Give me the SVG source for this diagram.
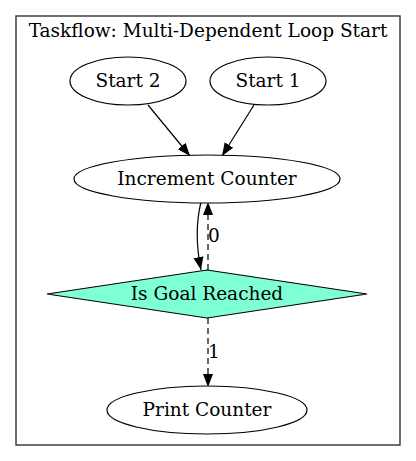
<svg xmlns="http://www.w3.org/2000/svg" width="416" height="461" viewBox="0 0 416 461">
<style>
text{font-family:"DejaVu Serif","Liberation Serif",serif;font-size:18.5px;fill:#000;text-anchor:middle}
.n{fill:#fff;stroke:#000;stroke-width:1.2}
.e{fill:none;stroke:#000;stroke-width:1.2}
.d{stroke-dasharray:6,4}
</style>
<defs>
<marker id="a" markerWidth="14" markerHeight="12" refX="13" refY="6" orient="auto" markerUnits="userSpaceOnUse">
<path d="M0,1 L13,6 L0,11 Z" fill="#000"/>
</marker>
</defs>
<rect width="416" height="461" fill="#fff"/>
<g id="cluster">
<rect x="16" y="16" width="384" height="429" fill="none" stroke="#333" stroke-width="1.4"/>
<text x="208" y="37">Taskflow: Multi-Dependent Loop Start</text>
</g>
<g id="edges">
<path class="e" d="M148,105 L190,156" marker-end="url(#a)"/>
<path class="e" d="M254,105 L222,156" marker-end="url(#a)"/>
<path class="e" d="M201,202 C196,222 196,245 201,270" marker-end="url(#a)"/>
<path class="e d" d="M208,270 L208,202" marker-end="url(#a)"/>
<text x="214" y="242">0</text>
<path class="e d" d="M208,318 L208,387" marker-end="url(#a)"/>
<text x="214" y="358">1</text>
</g>
<g id="start2">
<ellipse class="n" cx="128" cy="81" rx="58" ry="24"/>
<text x="128" y="87">Start 2</text>
</g>
<g id="start1">
<ellipse class="n" cx="268" cy="81" rx="58" ry="24"/>
<text x="268" y="87">Start 1</text>
</g>
<g id="increment">
<ellipse class="n" cx="207" cy="179" rx="133" ry="24"/>
<text x="207" y="185">Increment Counter</text>
</g>
<g id="goal">
<polygon points="207,270 367,294 207,318 47,294" fill="aquamarine" stroke="#000" stroke-width="1.2"/>
<text x="207" y="300">Is Goal Reached</text>
</g>
<g id="print">
<ellipse class="n" cx="207" cy="410" rx="100" ry="24"/>
<text x="207" y="416">Print Counter</text>
</g>
</svg>
